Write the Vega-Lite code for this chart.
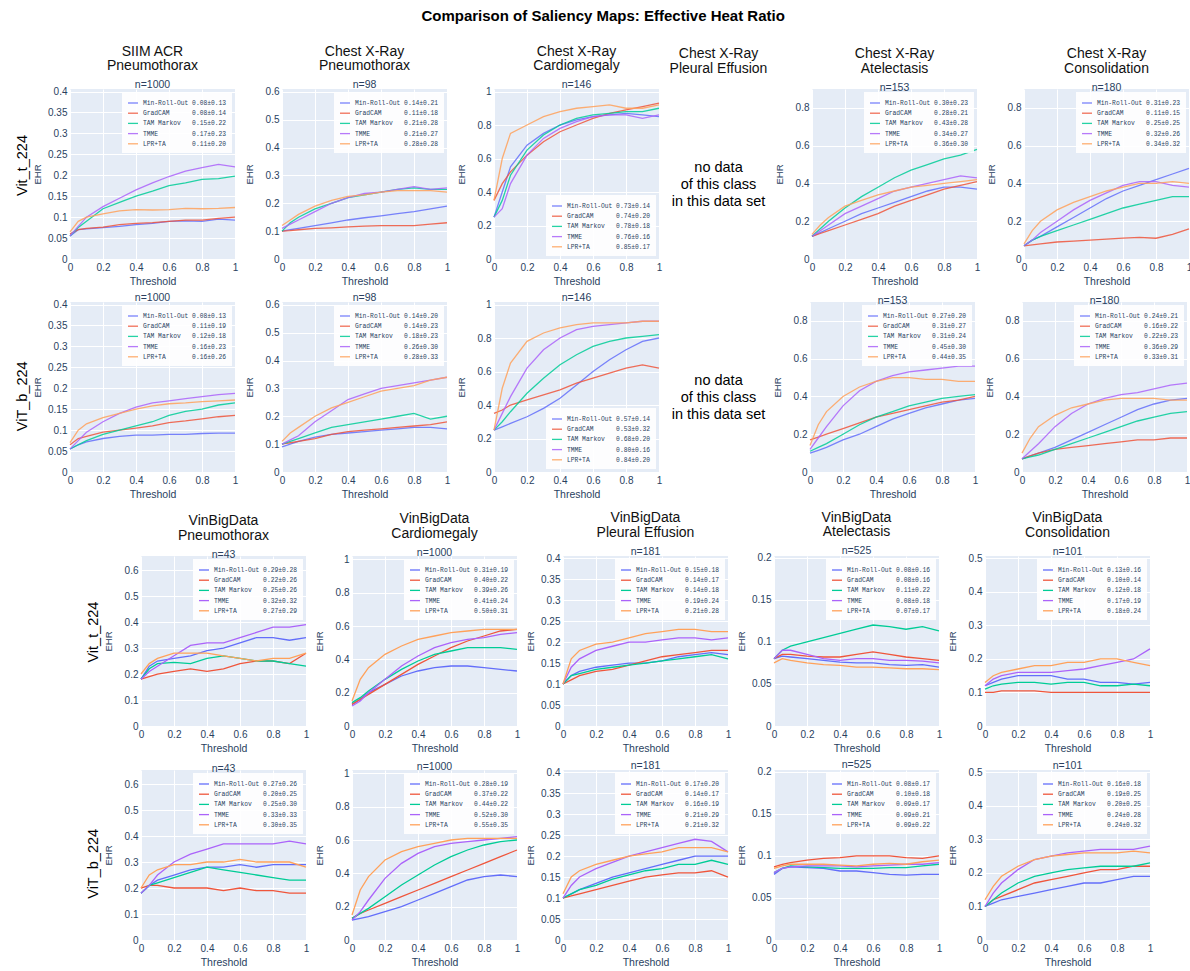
{
"$schema":"https://vega.github.io/schema/vega-lite/v6.json",
"padding":{"left":14,"top":8,"right":2,"bottom":2},
"title":{"text":"Comparison of Saliency Maps: Effective Heat Ratio","fontSize":15,"fontWeight":"bold","color":"#000000","offset":21,"anchor":"middle"},
"datasets":{"d":[
{"p":"T1","x":0,"Min-Roll-Out":0.055,"GradCAM":0.06,"TAM Markov":0.055,"TMME":0.055,"LPR+TA":0.065},
{"p":"T1","x":0.05,"Min-Roll-Out":0.07,"GradCAM":0.07,"TAM Markov":0.075,"TMME":0.078,"LPR+TA":0.09},
{"p":"T1","x":0.1,"Min-Roll-Out":0.072,"GradCAM":0.073,"TAM Markov":0.09,"TMME":0.1,"LPR+TA":0.1},
{"p":"T1","x":0.2,"Min-Roll-Out":0.075,"GradCAM":0.076,"TAM Markov":0.12,"TMME":0.125,"LPR+TA":0.108},
{"p":"T1","x":0.3,"Min-Roll-Out":0.078,"GradCAM":0.082,"TAM Markov":0.135,"TMME":0.145,"LPR+TA":0.115},
{"p":"T1","x":0.4,"Min-Roll-Out":0.082,"GradCAM":0.085,"TAM Markov":0.15,"TMME":0.165,"LPR+TA":0.118},
{"p":"T1","x":0.5,"Min-Roll-Out":0.085,"GradCAM":0.087,"TAM Markov":0.162,"TMME":0.182,"LPR+TA":0.117},
{"p":"T1","x":0.6,"Min-Roll-Out":0.09,"GradCAM":0.09,"TAM Markov":0.175,"TMME":0.197,"LPR+TA":0.118},
{"p":"T1","x":0.7,"Min-Roll-Out":0.091,"GradCAM":0.093,"TAM Markov":0.182,"TMME":0.21,"LPR+TA":0.121},
{"p":"T1","x":0.8,"Min-Roll-Out":0.09,"GradCAM":0.093,"TAM Markov":0.19,"TMME":0.218,"LPR+TA":0.12},
{"p":"T1","x":0.9,"Min-Roll-Out":0.095,"GradCAM":0.097,"TAM Markov":0.192,"TMME":0.226,"LPR+TA":0.121},
{"p":"T1","x":1,"Min-Roll-Out":0.093,"GradCAM":0.1,"TAM Markov":0.198,"TMME":0.22,"LPR+TA":0.123},
{"p":"T2","x":0,"Min-Roll-Out":0.1,"GradCAM":0.1,"TAM Markov":0.1,"TMME":0.11,"LPR+TA":0.12},
{"p":"T2","x":0.05,"Min-Roll-Out":0.105,"GradCAM":0.102,"TAM Markov":0.13,"TMME":0.125,"LPR+TA":0.14},
{"p":"T2","x":0.1,"Min-Roll-Out":0.11,"GradCAM":0.105,"TAM Markov":0.15,"TMME":0.14,"LPR+TA":0.16},
{"p":"T2","x":0.2,"Min-Roll-Out":0.12,"GradCAM":0.11,"TAM Markov":0.18,"TMME":0.17,"LPR+TA":0.19},
{"p":"T2","x":0.3,"Min-Roll-Out":0.13,"GradCAM":0.112,"TAM Markov":0.2,"TMME":0.2,"LPR+TA":0.21},
{"p":"T2","x":0.4,"Min-Roll-Out":0.14,"GradCAM":0.115,"TAM Markov":0.22,"TMME":0.22,"LPR+TA":0.225},
{"p":"T2","x":0.5,"Min-Roll-Out":0.148,"GradCAM":0.118,"TAM Markov":0.23,"TMME":0.235,"LPR+TA":0.23},
{"p":"T2","x":0.6,"Min-Roll-Out":0.155,"GradCAM":0.12,"TAM Markov":0.24,"TMME":0.24,"LPR+TA":0.24},
{"p":"T2","x":0.7,"Min-Roll-Out":0.163,"GradCAM":0.12,"TAM Markov":0.25,"TMME":0.25,"LPR+TA":0.245},
{"p":"T2","x":0.8,"Min-Roll-Out":0.17,"GradCAM":0.12,"TAM Markov":0.255,"TMME":0.26,"LPR+TA":0.245},
{"p":"T2","x":0.9,"Min-Roll-Out":0.18,"GradCAM":0.125,"TAM Markov":0.25,"TMME":0.25,"LPR+TA":0.245},
{"p":"T2","x":1,"Min-Roll-Out":0.19,"GradCAM":0.13,"TAM Markov":0.25,"TMME":0.255,"LPR+TA":0.24},
{"p":"T3","x":0,"Min-Roll-Out":0.25,"GradCAM":0.35,"TAM Markov":0.25,"TMME":0.25,"LPR+TA":0.35},
{"p":"T3","x":0.05,"Min-Roll-Out":0.4,"GradCAM":0.45,"TAM Markov":0.35,"TMME":0.3,"LPR+TA":0.6},
{"p":"T3","x":0.1,"Min-Roll-Out":0.55,"GradCAM":0.52,"TAM Markov":0.5,"TMME":0.45,"LPR+TA":0.75},
{"p":"T3","x":0.2,"Min-Roll-Out":0.68,"GradCAM":0.62,"TAM Markov":0.65,"TMME":0.62,"LPR+TA":0.8},
{"p":"T3","x":0.3,"Min-Roll-Out":0.75,"GradCAM":0.7,"TAM Markov":0.74,"TMME":0.72,"LPR+TA":0.85},
{"p":"T3","x":0.4,"Min-Roll-Out":0.8,"GradCAM":0.76,"TAM Markov":0.8,"TMME":0.78,"LPR+TA":0.88},
{"p":"T3","x":0.5,"Min-Roll-Out":0.83,"GradCAM":0.8,"TAM Markov":0.84,"TMME":0.82,"LPR+TA":0.9},
{"p":"T3","x":0.6,"Min-Roll-Out":0.85,"GradCAM":0.84,"TAM Markov":0.86,"TMME":0.85,"LPR+TA":0.91},
{"p":"T3","x":0.7,"Min-Roll-Out":0.86,"GradCAM":0.87,"TAM Markov":0.87,"TMME":0.86,"LPR+TA":0.92},
{"p":"T3","x":0.8,"Min-Roll-Out":0.87,"GradCAM":0.89,"TAM Markov":0.88,"TMME":0.86,"LPR+TA":0.9},
{"p":"T3","x":0.9,"Min-Roll-Out":0.86,"GradCAM":0.91,"TAM Markov":0.88,"TMME":0.84,"LPR+TA":0.9},
{"p":"T3","x":1,"Min-Roll-Out":0.85,"GradCAM":0.93,"TAM Markov":0.9,"TMME":0.86,"LPR+TA":0.92},
{"p":"T5","x":0,"Min-Roll-Out":0.12,"GradCAM":0.12,"TAM Markov":0.12,"TMME":0.12,"LPR+TA":0.13},
{"p":"T5","x":0.05,"Min-Roll-Out":0.14,"GradCAM":0.135,"TAM Markov":0.16,"TMME":0.15,"LPR+TA":0.18},
{"p":"T5","x":0.1,"Min-Roll-Out":0.16,"GradCAM":0.15,"TAM Markov":0.2,"TMME":0.18,"LPR+TA":0.22},
{"p":"T5","x":0.2,"Min-Roll-Out":0.2,"GradCAM":0.18,"TAM Markov":0.27,"TMME":0.24,"LPR+TA":0.28},
{"p":"T5","x":0.3,"Min-Roll-Out":0.24,"GradCAM":0.21,"TAM Markov":0.33,"TMME":0.28,"LPR+TA":0.31},
{"p":"T5","x":0.4,"Min-Roll-Out":0.27,"GradCAM":0.24,"TAM Markov":0.38,"TMME":0.32,"LPR+TA":0.34},
{"p":"T5","x":0.5,"Min-Roll-Out":0.3,"GradCAM":0.28,"TAM Markov":0.43,"TMME":0.36,"LPR+TA":0.36},
{"p":"T5","x":0.6,"Min-Roll-Out":0.33,"GradCAM":0.31,"TAM Markov":0.47,"TMME":0.38,"LPR+TA":0.38},
{"p":"T5","x":0.7,"Min-Roll-Out":0.36,"GradCAM":0.34,"TAM Markov":0.5,"TMME":0.4,"LPR+TA":0.39},
{"p":"T5","x":0.8,"Min-Roll-Out":0.38,"GradCAM":0.37,"TAM Markov":0.53,"TMME":0.42,"LPR+TA":0.4},
{"p":"T5","x":0.9,"Min-Roll-Out":0.38,"GradCAM":0.39,"TAM Markov":0.55,"TMME":0.44,"LPR+TA":0.41},
{"p":"T5","x":1,"Min-Roll-Out":0.37,"GradCAM":0.41,"TAM Markov":0.58,"TMME":0.43,"LPR+TA":0.42},
{"p":"T6","x":0,"Min-Roll-Out":0.07,"GradCAM":0.07,"TAM Markov":0.07,"TMME":0.07,"LPR+TA":0.08},
{"p":"T6","x":0.05,"Min-Roll-Out":0.1,"GradCAM":0.075,"TAM Markov":0.1,"TMME":0.1,"LPR+TA":0.15},
{"p":"T6","x":0.1,"Min-Roll-Out":0.12,"GradCAM":0.08,"TAM Markov":0.12,"TMME":0.14,"LPR+TA":0.2},
{"p":"T6","x":0.2,"Min-Roll-Out":0.17,"GradCAM":0.09,"TAM Markov":0.15,"TMME":0.2,"LPR+TA":0.26},
{"p":"T6","x":0.3,"Min-Roll-Out":0.22,"GradCAM":0.095,"TAM Markov":0.18,"TMME":0.26,"LPR+TA":0.3},
{"p":"T6","x":0.4,"Min-Roll-Out":0.27,"GradCAM":0.1,"TAM Markov":0.21,"TMME":0.31,"LPR+TA":0.33},
{"p":"T6","x":0.5,"Min-Roll-Out":0.32,"GradCAM":0.105,"TAM Markov":0.24,"TMME":0.35,"LPR+TA":0.36},
{"p":"T6","x":0.6,"Min-Roll-Out":0.36,"GradCAM":0.11,"TAM Markov":0.27,"TMME":0.39,"LPR+TA":0.38},
{"p":"T6","x":0.7,"Min-Roll-Out":0.39,"GradCAM":0.115,"TAM Markov":0.29,"TMME":0.41,"LPR+TA":0.4},
{"p":"T6","x":0.8,"Min-Roll-Out":0.42,"GradCAM":0.11,"TAM Markov":0.31,"TMME":0.41,"LPR+TA":0.4},
{"p":"T6","x":0.9,"Min-Roll-Out":0.45,"GradCAM":0.13,"TAM Markov":0.33,"TMME":0.39,"LPR+TA":0.41},
{"p":"T6","x":1,"Min-Roll-Out":0.48,"GradCAM":0.16,"TAM Markov":0.33,"TMME":0.38,"LPR+TA":0.4},
{"p":"U1","x":0,"Min-Roll-Out":0.055,"GradCAM":0.065,"TAM Markov":0.055,"TMME":0.055,"LPR+TA":0.07},
{"p":"U1","x":0.05,"Min-Roll-Out":0.065,"GradCAM":0.08,"TAM Markov":0.065,"TMME":0.075,"LPR+TA":0.1},
{"p":"U1","x":0.1,"Min-Roll-Out":0.072,"GradCAM":0.085,"TAM Markov":0.075,"TMME":0.095,"LPR+TA":0.115},
{"p":"U1","x":0.2,"Min-Roll-Out":0.08,"GradCAM":0.095,"TAM Markov":0.09,"TMME":0.12,"LPR+TA":0.13},
{"p":"U1","x":0.3,"Min-Roll-Out":0.085,"GradCAM":0.1,"TAM Markov":0.1,"TMME":0.14,"LPR+TA":0.14},
{"p":"U1","x":0.4,"Min-Roll-Out":0.088,"GradCAM":0.105,"TAM Markov":0.11,"TMME":0.155,"LPR+TA":0.15},
{"p":"U1","x":0.5,"Min-Roll-Out":0.088,"GradCAM":0.11,"TAM Markov":0.12,"TMME":0.165,"LPR+TA":0.158},
{"p":"U1","x":0.6,"Min-Roll-Out":0.09,"GradCAM":0.118,"TAM Markov":0.135,"TMME":0.17,"LPR+TA":0.163},
{"p":"U1","x":0.7,"Min-Roll-Out":0.09,"GradCAM":0.122,"TAM Markov":0.145,"TMME":0.175,"LPR+TA":0.165},
{"p":"U1","x":0.8,"Min-Roll-Out":0.092,"GradCAM":0.127,"TAM Markov":0.15,"TMME":0.18,"LPR+TA":0.168},
{"p":"U1","x":0.9,"Min-Roll-Out":0.093,"GradCAM":0.132,"TAM Markov":0.16,"TMME":0.185,"LPR+TA":0.17},
{"p":"U1","x":1,"Min-Roll-Out":0.093,"GradCAM":0.135,"TAM Markov":0.165,"TMME":0.188,"LPR+TA":0.172},
{"p":"U2","x":0,"Min-Roll-Out":0.09,"GradCAM":0.1,"TAM Markov":0.1,"TMME":0.1,"LPR+TA":0.11},
{"p":"U2","x":0.05,"Min-Roll-Out":0.1,"GradCAM":0.105,"TAM Markov":0.11,"TMME":0.115,"LPR+TA":0.14},
{"p":"U2","x":0.1,"Min-Roll-Out":0.11,"GradCAM":0.11,"TAM Markov":0.12,"TMME":0.13,"LPR+TA":0.16},
{"p":"U2","x":0.2,"Min-Roll-Out":0.125,"GradCAM":0.12,"TAM Markov":0.14,"TMME":0.18,"LPR+TA":0.2},
{"p":"U2","x":0.3,"Min-Roll-Out":0.135,"GradCAM":0.135,"TAM Markov":0.16,"TMME":0.22,"LPR+TA":0.23},
{"p":"U2","x":0.4,"Min-Roll-Out":0.14,"GradCAM":0.145,"TAM Markov":0.17,"TMME":0.26,"LPR+TA":0.25},
{"p":"U2","x":0.5,"Min-Roll-Out":0.145,"GradCAM":0.15,"TAM Markov":0.18,"TMME":0.28,"LPR+TA":0.27},
{"p":"U2","x":0.6,"Min-Roll-Out":0.15,"GradCAM":0.155,"TAM Markov":0.19,"TMME":0.3,"LPR+TA":0.29},
{"p":"U2","x":0.7,"Min-Roll-Out":0.155,"GradCAM":0.16,"TAM Markov":0.2,"TMME":0.31,"LPR+TA":0.3},
{"p":"U2","x":0.8,"Min-Roll-Out":0.16,"GradCAM":0.165,"TAM Markov":0.21,"TMME":0.32,"LPR+TA":0.31},
{"p":"U2","x":0.9,"Min-Roll-Out":0.16,"GradCAM":0.17,"TAM Markov":0.19,"TMME":0.33,"LPR+TA":0.33},
{"p":"U2","x":1,"Min-Roll-Out":0.155,"GradCAM":0.18,"TAM Markov":0.2,"TMME":0.34,"LPR+TA":0.34},
{"p":"U3","x":0,"Min-Roll-Out":0.25,"GradCAM":0.35,"TAM Markov":0.25,"TMME":0.25,"LPR+TA":0.25},
{"p":"U3","x":0.05,"Min-Roll-Out":0.27,"GradCAM":0.37,"TAM Markov":0.3,"TMME":0.35,"LPR+TA":0.5},
{"p":"U3","x":0.1,"Min-Roll-Out":0.29,"GradCAM":0.4,"TAM Markov":0.36,"TMME":0.45,"LPR+TA":0.65},
{"p":"U3","x":0.2,"Min-Roll-Out":0.33,"GradCAM":0.43,"TAM Markov":0.47,"TMME":0.62,"LPR+TA":0.78},
{"p":"U3","x":0.3,"Min-Roll-Out":0.38,"GradCAM":0.46,"TAM Markov":0.56,"TMME":0.73,"LPR+TA":0.83},
{"p":"U3","x":0.4,"Min-Roll-Out":0.44,"GradCAM":0.49,"TAM Markov":0.64,"TMME":0.8,"LPR+TA":0.86},
{"p":"U3","x":0.5,"Min-Roll-Out":0.52,"GradCAM":0.53,"TAM Markov":0.7,"TMME":0.85,"LPR+TA":0.88},
{"p":"U3","x":0.6,"Min-Roll-Out":0.6,"GradCAM":0.56,"TAM Markov":0.75,"TMME":0.87,"LPR+TA":0.89},
{"p":"U3","x":0.7,"Min-Roll-Out":0.67,"GradCAM":0.59,"TAM Markov":0.78,"TMME":0.88,"LPR+TA":0.89},
{"p":"U3","x":0.8,"Min-Roll-Out":0.73,"GradCAM":0.62,"TAM Markov":0.8,"TMME":0.89,"LPR+TA":0.89},
{"p":"U3","x":0.9,"Min-Roll-Out":0.78,"GradCAM":0.64,"TAM Markov":0.81,"TMME":0.9,"LPR+TA":0.9},
{"p":"U3","x":1,"Min-Roll-Out":0.8,"GradCAM":0.62,"TAM Markov":0.82,"TMME":0.9,"LPR+TA":0.9},
{"p":"U5","x":0,"Min-Roll-Out":0.1,"GradCAM":0.17,"TAM Markov":0.11,"TMME":0.12,"LPR+TA":0.14},
{"p":"U5","x":0.05,"Min-Roll-Out":0.115,"GradCAM":0.185,"TAM Markov":0.13,"TMME":0.18,"LPR+TA":0.25},
{"p":"U5","x":0.1,"Min-Roll-Out":0.13,"GradCAM":0.2,"TAM Markov":0.15,"TMME":0.24,"LPR+TA":0.32},
{"p":"U5","x":0.2,"Min-Roll-Out":0.17,"GradCAM":0.23,"TAM Markov":0.2,"TMME":0.35,"LPR+TA":0.4},
{"p":"U5","x":0.3,"Min-Roll-Out":0.2,"GradCAM":0.26,"TAM Markov":0.25,"TMME":0.43,"LPR+TA":0.45},
{"p":"U5","x":0.4,"Min-Roll-Out":0.24,"GradCAM":0.29,"TAM Markov":0.29,"TMME":0.48,"LPR+TA":0.48},
{"p":"U5","x":0.5,"Min-Roll-Out":0.28,"GradCAM":0.31,"TAM Markov":0.32,"TMME":0.51,"LPR+TA":0.5},
{"p":"U5","x":0.6,"Min-Roll-Out":0.31,"GradCAM":0.33,"TAM Markov":0.35,"TMME":0.53,"LPR+TA":0.5},
{"p":"U5","x":0.7,"Min-Roll-Out":0.34,"GradCAM":0.35,"TAM Markov":0.37,"TMME":0.54,"LPR+TA":0.49},
{"p":"U5","x":0.8,"Min-Roll-Out":0.36,"GradCAM":0.37,"TAM Markov":0.39,"TMME":0.55,"LPR+TA":0.49},
{"p":"U5","x":0.9,"Min-Roll-Out":0.38,"GradCAM":0.38,"TAM Markov":0.4,"TMME":0.56,"LPR+TA":0.48},
{"p":"U5","x":1,"Min-Roll-Out":0.39,"GradCAM":0.4,"TAM Markov":0.41,"TMME":0.56,"LPR+TA":0.48},
{"p":"U6","x":0,"Min-Roll-Out":0.07,"GradCAM":0.07,"TAM Markov":0.07,"TMME":0.07,"LPR+TA":0.1},
{"p":"U6","x":0.05,"Min-Roll-Out":0.085,"GradCAM":0.085,"TAM Markov":0.08,"TMME":0.11,"LPR+TA":0.18},
{"p":"U6","x":0.1,"Min-Roll-Out":0.1,"GradCAM":0.1,"TAM Markov":0.09,"TMME":0.15,"LPR+TA":0.24},
{"p":"U6","x":0.2,"Min-Roll-Out":0.13,"GradCAM":0.12,"TAM Markov":0.12,"TMME":0.24,"LPR+TA":0.3},
{"p":"U6","x":0.3,"Min-Roll-Out":0.17,"GradCAM":0.13,"TAM Markov":0.15,"TMME":0.31,"LPR+TA":0.34},
{"p":"U6","x":0.4,"Min-Roll-Out":0.21,"GradCAM":0.14,"TAM Markov":0.18,"TMME":0.36,"LPR+TA":0.36},
{"p":"U6","x":0.5,"Min-Roll-Out":0.25,"GradCAM":0.15,"TAM Markov":0.21,"TMME":0.39,"LPR+TA":0.38},
{"p":"U6","x":0.6,"Min-Roll-Out":0.29,"GradCAM":0.16,"TAM Markov":0.24,"TMME":0.41,"LPR+TA":0.39},
{"p":"U6","x":0.7,"Min-Roll-Out":0.33,"GradCAM":0.17,"TAM Markov":0.27,"TMME":0.42,"LPR+TA":0.39},
{"p":"U6","x":0.8,"Min-Roll-Out":0.36,"GradCAM":0.17,"TAM Markov":0.29,"TMME":0.44,"LPR+TA":0.39},
{"p":"U6","x":0.9,"Min-Roll-Out":0.38,"GradCAM":0.18,"TAM Markov":0.31,"TMME":0.46,"LPR+TA":0.38},
{"p":"U6","x":1,"Min-Roll-Out":0.39,"GradCAM":0.18,"TAM Markov":0.32,"TMME":0.47,"LPR+TA":0.38},
{"p":"B1","x":0,"Min-Roll-Out":0.18,"GradCAM":0.18,"TAM Markov":0.18,"TMME":0.18,"LPR+TA":0.2},
{"p":"B1","x":0.05,"Min-Roll-Out":0.23,"GradCAM":0.19,"TAM Markov":0.22,"TMME":0.21,"LPR+TA":0.24},
{"p":"B1","x":0.1,"Min-Roll-Out":0.25,"GradCAM":0.2,"TAM Markov":0.24,"TMME":0.23,"LPR+TA":0.26},
{"p":"B1","x":0.2,"Min-Roll-Out":0.26,"GradCAM":0.21,"TAM Markov":0.245,"TMME":0.27,"LPR+TA":0.28},
{"p":"B1","x":0.3,"Min-Roll-Out":0.27,"GradCAM":0.22,"TAM Markov":0.24,"TMME":0.31,"LPR+TA":0.28},
{"p":"B1","x":0.4,"Min-Roll-Out":0.29,"GradCAM":0.21,"TAM Markov":0.26,"TMME":0.32,"LPR+TA":0.28},
{"p":"B1","x":0.5,"Min-Roll-Out":0.3,"GradCAM":0.22,"TAM Markov":0.27,"TMME":0.32,"LPR+TA":0.27},
{"p":"B1","x":0.6,"Min-Roll-Out":0.32,"GradCAM":0.24,"TAM Markov":0.26,"TMME":0.34,"LPR+TA":0.26},
{"p":"B1","x":0.7,"Min-Roll-Out":0.34,"GradCAM":0.25,"TAM Markov":0.25,"TMME":0.36,"LPR+TA":0.25},
{"p":"B1","x":0.8,"Min-Roll-Out":0.34,"GradCAM":0.25,"TAM Markov":0.25,"TMME":0.38,"LPR+TA":0.26},
{"p":"B1","x":0.9,"Min-Roll-Out":0.33,"GradCAM":0.24,"TAM Markov":0.24,"TMME":0.38,"LPR+TA":0.26},
{"p":"B1","x":1,"Min-Roll-Out":0.34,"GradCAM":0.28,"TAM Markov":0.23,"TMME":0.39,"LPR+TA":0.28},
{"p":"B2","x":0,"Min-Roll-Out":0.13,"GradCAM":0.13,"TAM Markov":0.14,"TMME":0.12,"LPR+TA":0.15},
{"p":"B2","x":0.05,"Min-Roll-Out":0.16,"GradCAM":0.16,"TAM Markov":0.17,"TMME":0.15,"LPR+TA":0.28},
{"p":"B2","x":0.1,"Min-Roll-Out":0.2,"GradCAM":0.19,"TAM Markov":0.21,"TMME":0.2,"LPR+TA":0.35},
{"p":"B2","x":0.2,"Min-Roll-Out":0.25,"GradCAM":0.25,"TAM Markov":0.28,"TMME":0.28,"LPR+TA":0.43},
{"p":"B2","x":0.3,"Min-Roll-Out":0.3,"GradCAM":0.31,"TAM Markov":0.34,"TMME":0.36,"LPR+TA":0.48},
{"p":"B2","x":0.4,"Min-Roll-Out":0.33,"GradCAM":0.37,"TAM Markov":0.39,"TMME":0.42,"LPR+TA":0.52},
{"p":"B2","x":0.5,"Min-Roll-Out":0.35,"GradCAM":0.42,"TAM Markov":0.43,"TMME":0.47,"LPR+TA":0.54},
{"p":"B2","x":0.6,"Min-Roll-Out":0.36,"GradCAM":0.47,"TAM Markov":0.45,"TMME":0.5,"LPR+TA":0.56},
{"p":"B2","x":0.7,"Min-Roll-Out":0.36,"GradCAM":0.51,"TAM Markov":0.47,"TMME":0.52,"LPR+TA":0.57},
{"p":"B2","x":0.8,"Min-Roll-Out":0.35,"GradCAM":0.54,"TAM Markov":0.47,"TMME":0.53,"LPR+TA":0.58},
{"p":"B2","x":0.9,"Min-Roll-Out":0.34,"GradCAM":0.57,"TAM Markov":0.47,"TMME":0.55,"LPR+TA":0.58},
{"p":"B2","x":1,"Min-Roll-Out":0.33,"GradCAM":0.58,"TAM Markov":0.46,"TMME":0.56,"LPR+TA":0.58},
{"p":"B3","x":0,"Min-Roll-Out":0.1,"GradCAM":0.1,"TAM Markov":0.1,"TMME":0.1,"LPR+TA":0.1},
{"p":"B3","x":0.05,"Min-Roll-Out":0.12,"GradCAM":0.11,"TAM Markov":0.12,"TMME":0.14,"LPR+TA":0.16},
{"p":"B3","x":0.1,"Min-Roll-Out":0.13,"GradCAM":0.12,"TAM Markov":0.125,"TMME":0.16,"LPR+TA":0.18},
{"p":"B3","x":0.2,"Min-Roll-Out":0.14,"GradCAM":0.13,"TAM Markov":0.135,"TMME":0.18,"LPR+TA":0.195},
{"p":"B3","x":0.3,"Min-Roll-Out":0.145,"GradCAM":0.135,"TAM Markov":0.14,"TMME":0.19,"LPR+TA":0.2},
{"p":"B3","x":0.4,"Min-Roll-Out":0.15,"GradCAM":0.145,"TAM Markov":0.145,"TMME":0.2,"LPR+TA":0.21},
{"p":"B3","x":0.5,"Min-Roll-Out":0.15,"GradCAM":0.155,"TAM Markov":0.15,"TMME":0.2,"LPR+TA":0.22},
{"p":"B3","x":0.6,"Min-Roll-Out":0.155,"GradCAM":0.165,"TAM Markov":0.155,"TMME":0.205,"LPR+TA":0.225},
{"p":"B3","x":0.7,"Min-Roll-Out":0.165,"GradCAM":0.17,"TAM Markov":0.16,"TMME":0.21,"LPR+TA":0.23},
{"p":"B3","x":0.8,"Min-Roll-Out":0.17,"GradCAM":0.175,"TAM Markov":0.165,"TMME":0.21,"LPR+TA":0.23},
{"p":"B3","x":0.9,"Min-Roll-Out":0.175,"GradCAM":0.18,"TAM Markov":0.17,"TMME":0.205,"LPR+TA":0.225},
{"p":"B3","x":1,"Min-Roll-Out":0.17,"GradCAM":0.18,"TAM Markov":0.16,"TMME":0.21,"LPR+TA":0.225},
{"p":"B4","x":0,"Min-Roll-Out":0.08,"GradCAM":0.08,"TAM Markov":0.08,"TMME":0.08,"LPR+TA":0.075},
{"p":"B4","x":0.05,"Min-Roll-Out":0.083,"GradCAM":0.085,"TAM Markov":0.09,"TMME":0.09,"LPR+TA":0.08},
{"p":"B4","x":0.1,"Min-Roll-Out":0.082,"GradCAM":0.085,"TAM Markov":0.095,"TMME":0.09,"LPR+TA":0.078},
{"p":"B4","x":0.2,"Min-Roll-Out":0.08,"GradCAM":0.083,"TAM Markov":0.1,"TMME":0.085,"LPR+TA":0.075},
{"p":"B4","x":0.3,"Min-Roll-Out":0.078,"GradCAM":0.082,"TAM Markov":0.105,"TMME":0.08,"LPR+TA":0.073},
{"p":"B4","x":0.4,"Min-Roll-Out":0.076,"GradCAM":0.082,"TAM Markov":0.11,"TMME":0.078,"LPR+TA":0.072},
{"p":"B4","x":0.5,"Min-Roll-Out":0.075,"GradCAM":0.085,"TAM Markov":0.115,"TMME":0.08,"LPR+TA":0.07},
{"p":"B4","x":0.6,"Min-Roll-Out":0.075,"GradCAM":0.088,"TAM Markov":0.12,"TMME":0.08,"LPR+TA":0.07},
{"p":"B4","x":0.7,"Min-Roll-Out":0.073,"GradCAM":0.085,"TAM Markov":0.118,"TMME":0.078,"LPR+TA":0.069},
{"p":"B4","x":0.8,"Min-Roll-Out":0.072,"GradCAM":0.082,"TAM Markov":0.115,"TMME":0.078,"LPR+TA":0.068},
{"p":"B4","x":0.9,"Min-Roll-Out":0.073,"GradCAM":0.08,"TAM Markov":0.118,"TMME":0.077,"LPR+TA":0.068},
{"p":"B4","x":1,"Min-Roll-Out":0.07,"GradCAM":0.078,"TAM Markov":0.113,"TMME":0.075,"LPR+TA":0.067},
{"p":"B5","x":0,"Min-Roll-Out":0.12,"GradCAM":0.1,"TAM Markov":0.11,"TMME":0.12,"LPR+TA":0.13},
{"p":"B5","x":0.05,"Min-Roll-Out":0.13,"GradCAM":0.1,"TAM Markov":0.12,"TMME":0.14,"LPR+TA":0.15},
{"p":"B5","x":0.1,"Min-Roll-Out":0.14,"GradCAM":0.105,"TAM Markov":0.125,"TMME":0.15,"LPR+TA":0.16},
{"p":"B5","x":0.2,"Min-Roll-Out":0.15,"GradCAM":0.105,"TAM Markov":0.13,"TMME":0.16,"LPR+TA":0.17},
{"p":"B5","x":0.3,"Min-Roll-Out":0.15,"GradCAM":0.105,"TAM Markov":0.13,"TMME":0.16,"LPR+TA":0.18},
{"p":"B5","x":0.4,"Min-Roll-Out":0.15,"GradCAM":0.1,"TAM Markov":0.125,"TMME":0.16,"LPR+TA":0.18},
{"p":"B5","x":0.5,"Min-Roll-Out":0.14,"GradCAM":0.1,"TAM Markov":0.13,"TMME":0.165,"LPR+TA":0.19},
{"p":"B5","x":0.6,"Min-Roll-Out":0.14,"GradCAM":0.1,"TAM Markov":0.13,"TMME":0.17,"LPR+TA":0.19},
{"p":"B5","x":0.7,"Min-Roll-Out":0.13,"GradCAM":0.1,"TAM Markov":0.12,"TMME":0.18,"LPR+TA":0.2},
{"p":"B5","x":0.8,"Min-Roll-Out":0.13,"GradCAM":0.1,"TAM Markov":0.12,"TMME":0.19,"LPR+TA":0.2},
{"p":"B5","x":0.9,"Min-Roll-Out":0.125,"GradCAM":0.1,"TAM Markov":0.125,"TMME":0.2,"LPR+TA":0.19},
{"p":"B5","x":1,"Min-Roll-Out":0.13,"GradCAM":0.1,"TAM Markov":0.12,"TMME":0.23,"LPR+TA":0.18},
{"p":"C1","x":0,"Min-Roll-Out":0.18,"GradCAM":0.2,"TAM Markov":0.18,"TMME":0.18,"LPR+TA":0.2},
{"p":"C1","x":0.05,"Min-Roll-Out":0.21,"GradCAM":0.21,"TAM Markov":0.21,"TMME":0.21,"LPR+TA":0.25},
{"p":"C1","x":0.1,"Min-Roll-Out":0.23,"GradCAM":0.21,"TAM Markov":0.22,"TMME":0.25,"LPR+TA":0.27},
{"p":"C1","x":0.2,"Min-Roll-Out":0.25,"GradCAM":0.2,"TAM Markov":0.24,"TMME":0.3,"LPR+TA":0.29},
{"p":"C1","x":0.3,"Min-Roll-Out":0.27,"GradCAM":0.2,"TAM Markov":0.26,"TMME":0.33,"LPR+TA":0.29},
{"p":"C1","x":0.4,"Min-Roll-Out":0.28,"GradCAM":0.2,"TAM Markov":0.28,"TMME":0.35,"LPR+TA":0.3},
{"p":"C1","x":0.5,"Min-Roll-Out":0.28,"GradCAM":0.19,"TAM Markov":0.27,"TMME":0.37,"LPR+TA":0.3},
{"p":"C1","x":0.6,"Min-Roll-Out":0.29,"GradCAM":0.2,"TAM Markov":0.26,"TMME":0.37,"LPR+TA":0.31},
{"p":"C1","x":0.7,"Min-Roll-Out":0.28,"GradCAM":0.19,"TAM Markov":0.25,"TMME":0.37,"LPR+TA":0.3},
{"p":"C1","x":0.8,"Min-Roll-Out":0.29,"GradCAM":0.19,"TAM Markov":0.24,"TMME":0.37,"LPR+TA":0.3},
{"p":"C1","x":0.9,"Min-Roll-Out":0.29,"GradCAM":0.18,"TAM Markov":0.23,"TMME":0.38,"LPR+TA":0.3},
{"p":"C1","x":1,"Min-Roll-Out":0.29,"GradCAM":0.18,"TAM Markov":0.23,"TMME":0.37,"LPR+TA":0.28},
{"p":"C2","x":0,"Min-Roll-Out":0.12,"GradCAM":0.13,"TAM Markov":0.13,"TMME":0.12,"LPR+TA":0.15},
{"p":"C2","x":0.05,"Min-Roll-Out":0.13,"GradCAM":0.16,"TAM Markov":0.16,"TMME":0.17,"LPR+TA":0.3},
{"p":"C2","x":0.1,"Min-Roll-Out":0.14,"GradCAM":0.18,"TAM Markov":0.19,"TMME":0.24,"LPR+TA":0.38},
{"p":"C2","x":0.2,"Min-Roll-Out":0.17,"GradCAM":0.22,"TAM Markov":0.26,"TMME":0.37,"LPR+TA":0.48},
{"p":"C2","x":0.3,"Min-Roll-Out":0.2,"GradCAM":0.26,"TAM Markov":0.33,"TMME":0.46,"LPR+TA":0.53},
{"p":"C2","x":0.4,"Min-Roll-Out":0.24,"GradCAM":0.3,"TAM Markov":0.39,"TMME":0.52,"LPR+TA":0.56},
{"p":"C2","x":0.5,"Min-Roll-Out":0.28,"GradCAM":0.34,"TAM Markov":0.45,"TMME":0.56,"LPR+TA":0.58},
{"p":"C2","x":0.6,"Min-Roll-Out":0.32,"GradCAM":0.38,"TAM Markov":0.5,"TMME":0.58,"LPR+TA":0.6},
{"p":"C2","x":0.7,"Min-Roll-Out":0.36,"GradCAM":0.42,"TAM Markov":0.54,"TMME":0.59,"LPR+TA":0.61},
{"p":"C2","x":0.8,"Min-Roll-Out":0.38,"GradCAM":0.46,"TAM Markov":0.57,"TMME":0.6,"LPR+TA":0.61},
{"p":"C2","x":0.9,"Min-Roll-Out":0.39,"GradCAM":0.5,"TAM Markov":0.59,"TMME":0.61,"LPR+TA":0.61},
{"p":"C2","x":1,"Min-Roll-Out":0.38,"GradCAM":0.54,"TAM Markov":0.6,"TMME":0.62,"LPR+TA":0.61},
{"p":"C3","x":0,"Min-Roll-Out":0.1,"GradCAM":0.1,"TAM Markov":0.1,"TMME":0.1,"LPR+TA":0.11},
{"p":"C3","x":0.05,"Min-Roll-Out":0.11,"GradCAM":0.105,"TAM Markov":0.11,"TMME":0.13,"LPR+TA":0.15},
{"p":"C3","x":0.1,"Min-Roll-Out":0.12,"GradCAM":0.11,"TAM Markov":0.12,"TMME":0.15,"LPR+TA":0.165},
{"p":"C3","x":0.2,"Min-Roll-Out":0.135,"GradCAM":0.12,"TAM Markov":0.13,"TMME":0.17,"LPR+TA":0.18},
{"p":"C3","x":0.3,"Min-Roll-Out":0.15,"GradCAM":0.13,"TAM Markov":0.145,"TMME":0.185,"LPR+TA":0.19},
{"p":"C3","x":0.4,"Min-Roll-Out":0.16,"GradCAM":0.14,"TAM Markov":0.155,"TMME":0.2,"LPR+TA":0.2},
{"p":"C3","x":0.5,"Min-Roll-Out":0.17,"GradCAM":0.15,"TAM Markov":0.165,"TMME":0.21,"LPR+TA":0.205},
{"p":"C3","x":0.6,"Min-Roll-Out":0.18,"GradCAM":0.155,"TAM Markov":0.17,"TMME":0.22,"LPR+TA":0.21},
{"p":"C3","x":0.7,"Min-Roll-Out":0.19,"GradCAM":0.16,"TAM Markov":0.18,"TMME":0.23,"LPR+TA":0.22},
{"p":"C3","x":0.8,"Min-Roll-Out":0.2,"GradCAM":0.16,"TAM Markov":0.18,"TMME":0.24,"LPR+TA":0.22},
{"p":"C3","x":0.9,"Min-Roll-Out":0.2,"GradCAM":0.165,"TAM Markov":0.19,"TMME":0.235,"LPR+TA":0.22},
{"p":"C3","x":1,"Min-Roll-Out":0.2,"GradCAM":0.15,"TAM Markov":0.18,"TMME":0.21,"LPR+TA":0.21},
{"p":"C4","x":0,"Min-Roll-Out":0.078,"GradCAM":0.087,"TAM Markov":0.08,"TMME":0.08,"LPR+TA":0.085},
{"p":"C4","x":0.05,"Min-Roll-Out":0.085,"GradCAM":0.09,"TAM Markov":0.085,"TMME":0.085,"LPR+TA":0.088},
{"p":"C4","x":0.1,"Min-Roll-Out":0.087,"GradCAM":0.092,"TAM Markov":0.088,"TMME":0.087,"LPR+TA":0.09},
{"p":"C4","x":0.2,"Min-Roll-Out":0.086,"GradCAM":0.095,"TAM Markov":0.087,"TMME":0.088,"LPR+TA":0.09},
{"p":"C4","x":0.3,"Min-Roll-Out":0.085,"GradCAM":0.097,"TAM Markov":0.086,"TMME":0.088,"LPR+TA":0.09},
{"p":"C4","x":0.4,"Min-Roll-Out":0.082,"GradCAM":0.098,"TAM Markov":0.085,"TMME":0.088,"LPR+TA":0.089},
{"p":"C4","x":0.5,"Min-Roll-Out":0.082,"GradCAM":0.1,"TAM Markov":0.085,"TMME":0.087,"LPR+TA":0.088},
{"p":"C4","x":0.6,"Min-Roll-Out":0.08,"GradCAM":0.1,"TAM Markov":0.085,"TMME":0.088,"LPR+TA":0.09},
{"p":"C4","x":0.7,"Min-Roll-Out":0.078,"GradCAM":0.1,"TAM Markov":0.086,"TMME":0.089,"LPR+TA":0.091},
{"p":"C4","x":0.8,"Min-Roll-Out":0.077,"GradCAM":0.098,"TAM Markov":0.086,"TMME":0.09,"LPR+TA":0.09},
{"p":"C4","x":0.9,"Min-Roll-Out":0.078,"GradCAM":0.097,"TAM Markov":0.088,"TMME":0.09,"LPR+TA":0.093},
{"p":"C4","x":1,"Min-Roll-Out":0.078,"GradCAM":0.1,"TAM Markov":0.09,"TMME":0.092,"LPR+TA":0.095},
{"p":"C5","x":0,"Min-Roll-Out":0.1,"GradCAM":0.1,"TAM Markov":0.1,"TMME":0.1,"LPR+TA":0.12},
{"p":"C5","x":0.05,"Min-Roll-Out":0.11,"GradCAM":0.12,"TAM Markov":0.12,"TMME":0.14,"LPR+TA":0.16},
{"p":"C5","x":0.1,"Min-Roll-Out":0.12,"GradCAM":0.13,"TAM Markov":0.14,"TMME":0.17,"LPR+TA":0.19},
{"p":"C5","x":0.2,"Min-Roll-Out":0.13,"GradCAM":0.15,"TAM Markov":0.17,"TMME":0.21,"LPR+TA":0.22},
{"p":"C5","x":0.3,"Min-Roll-Out":0.14,"GradCAM":0.17,"TAM Markov":0.19,"TMME":0.24,"LPR+TA":0.24},
{"p":"C5","x":0.4,"Min-Roll-Out":0.15,"GradCAM":0.18,"TAM Markov":0.2,"TMME":0.25,"LPR+TA":0.25},
{"p":"C5","x":0.5,"Min-Roll-Out":0.16,"GradCAM":0.19,"TAM Markov":0.21,"TMME":0.26,"LPR+TA":0.255},
{"p":"C5","x":0.6,"Min-Roll-Out":0.17,"GradCAM":0.2,"TAM Markov":0.215,"TMME":0.265,"LPR+TA":0.26},
{"p":"C5","x":0.7,"Min-Roll-Out":0.17,"GradCAM":0.21,"TAM Markov":0.22,"TMME":0.27,"LPR+TA":0.26},
{"p":"C5","x":0.8,"Min-Roll-Out":0.18,"GradCAM":0.21,"TAM Markov":0.22,"TMME":0.27,"LPR+TA":0.26},
{"p":"C5","x":0.9,"Min-Roll-Out":0.19,"GradCAM":0.22,"TAM Markov":0.22,"TMME":0.27,"LPR+TA":0.265},
{"p":"C5","x":1,"Min-Roll-Out":0.19,"GradCAM":0.22,"TAM Markov":0.23,"TMME":0.28,"LPR+TA":0.26}
]},
"data":{"name":"d"},
"spacing":10,
"resolve":{"scale":{"color":"independent"}},
"vconcat":[
{"vconcat":[
{"title":{"text":"Vit_t_224","orient":"left","fontSize":14.5,"offset":2,"anchor":"middle","color":"#000000"},
"spacing":6,"resolve":{"scale":{"color":"independent"}},
"hconcat":[
{"width":165,"height":170,"title":{"text":["SIIM ACR","Pneumothorax"],"subtitle":"n=1000"},
"transform":[{"filter":"datum.p=='T1'"},{"fold":["Min-Roll-Out","GradCAM","TAM Markov","TMME","LPR+TA"],"as":["m","y"]}],
"mark":{"type":"line","opacity":0.85},
"encoding":{"x":{"field":"x","type":"quantitative","scale":{"domain":[0,1],"nice":false},"axis":{"values":[0,0.2,0.4,0.6,0.8,1],"format":"~g","title":"Threshold"}},
"y":{"field":"y","type":"quantitative","scale":{"domain":[0,0.406],"nice":false},"axis":{"values":[0,0.05,0.1,0.15,0.2,0.25,0.3,0.35,0.4],"format":"~g","title":"EHR"}},
"color":{"field":"m","type":"nominal","scale":{"domain":["Min-Roll-Out","GradCAM","TAM Markov","TMME","LPR+TA"],"range":["#636EFA","#EF553B","#00CC96","#AB63FA","#FFA15A"]},"legend":{"title":null,"labelExpr":"pad(datum.label,13,'\u00a0','right')+['0.08±0.13','0.08±0.14','0.15±0.22','0.17±0.23','0.11±0.20'][indexof(['Min-Roll-Out','GradCAM','TAM Markov','TMME','LPR+TA'],datum.label)]"}}}},
{"width":165,"height":170,"title":{"text":["Chest X-Ray","Pneumothorax"],"subtitle":"n=98"},
"transform":[{"filter":"datum.p=='T2'"},{"fold":["Min-Roll-Out","GradCAM","TAM Markov","TMME","LPR+TA"],"as":["m","y"]}],
"mark":{"type":"line","opacity":0.85},
"encoding":{"x":{"field":"x","type":"quantitative","scale":{"domain":[0,1],"nice":false},"axis":{"values":[0,0.2,0.4,0.6,0.8,1],"format":"~g","title":"Threshold"}},
"y":{"field":"y","type":"quantitative","scale":{"domain":[0,0.61],"nice":false},"axis":{"values":[0,0.1,0.2,0.3,0.4,0.5,0.6],"format":"~g","title":"EHR"}},
"color":{"field":"m","type":"nominal","scale":{"domain":["Min-Roll-Out","GradCAM","TAM Markov","TMME","LPR+TA"],"range":["#636EFA","#EF553B","#00CC96","#AB63FA","#FFA15A"]},"legend":{"title":null,"labelExpr":"pad(datum.label,13,'\u00a0','right')+['0.14±0.21','0.11±0.18','0.21±0.28','0.21±0.27','0.28±0.28'][indexof(['Min-Roll-Out','GradCAM','TAM Markov','TMME','LPR+TA'],datum.label)]"}}}},
{"width":165,"height":170,"title":{"text":["Chest X-Ray","Cardiomegaly"],"subtitle":"n=146"},
"transform":[{"filter":"datum.p=='T3'"},{"fold":["Min-Roll-Out","GradCAM","TAM Markov","TMME","LPR+TA"],"as":["m","y"]}],
"mark":{"type":"line","opacity":0.85},
"encoding":{"x":{"field":"x","type":"quantitative","scale":{"domain":[0,1],"nice":false},"axis":{"values":[0,0.2,0.4,0.6,0.8,1],"format":"~g","title":"Threshold"}},
"y":{"field":"y","type":"quantitative","scale":{"domain":[0,1.015],"nice":false},"axis":{"values":[0,0.2,0.4,0.6,0.8,1],"format":"~g","title":"EHR"}},
"color":{"field":"m","type":"nominal","scale":{"domain":["Min-Roll-Out","GradCAM","TAM Markov","TMME","LPR+TA"],"range":["#636EFA","#EF553B","#00CC96","#AB63FA","#FFA15A"]},"legend":{"title":null,"orient":"bottom-right","labelExpr":"pad(datum.label,13,'\u00a0','right')+['0.73±0.14','0.74±0.20','0.78±0.18','0.76±0.16','0.85±0.17'][indexof(['Min-Roll-Out','GradCAM','TAM Markov','TMME','LPR+TA'],datum.label)]"}}}},
{"width":79,"height":170,"title":{"text":["Chest X-Ray","Pleural Effusion"],"subtitle":" ","dx":11},
"data":{"values":[{"t":"no data\nof this class\nin this data set"}]},
"view":{"fill":null,"stroke":null},
"mark":{"type":"text","lineBreak":"\n","fontSize":14.5,"lineHeight":17,"dx":11,"dy":-6,"color":"#000000"},
"encoding":{"text":{"field":"t"}}},
{"width":165,"height":170,"title":{"text":["Chest X-Ray","Atelectasis"],"subtitle":"n=153"},
"transform":[{"filter":"datum.p=='T5'"},{"fold":["Min-Roll-Out","GradCAM","TAM Markov","TMME","LPR+TA"],"as":["m","y"]}],
"mark":{"type":"line","opacity":0.85},
"encoding":{"x":{"field":"x","type":"quantitative","scale":{"domain":[0,1],"nice":false},"axis":{"values":[0,0.2,0.4,0.6,0.8,1],"format":"~g","title":"Threshold"}},
"y":{"field":"y","type":"quantitative","scale":{"domain":[0,0.9],"nice":false},"axis":{"values":[0,0.2,0.4,0.6,0.8],"format":"~g","title":"EHR"}},
"color":{"field":"m","type":"nominal","scale":{"domain":["Min-Roll-Out","GradCAM","TAM Markov","TMME","LPR+TA"],"range":["#636EFA","#EF553B","#00CC96","#AB63FA","#FFA15A"]},"legend":{"title":null,"labelExpr":"pad(datum.label,13,'\u00a0','right')+['0.30±0.23','0.28±0.21','0.43±0.28','0.34±0.27','0.36±0.30'][indexof(['Min-Roll-Out','GradCAM','TAM Markov','TMME','LPR+TA'],datum.label)]"}}}},
{"width":165,"height":170,"title":{"text":["Chest X-Ray","Consolidation"],"subtitle":"n=180"},
"transform":[{"filter":"datum.p=='T6'"},{"fold":["Min-Roll-Out","GradCAM","TAM Markov","TMME","LPR+TA"],"as":["m","y"]}],
"mark":{"type":"line","opacity":0.85},
"encoding":{"x":{"field":"x","type":"quantitative","scale":{"domain":[0,1],"nice":false},"axis":{"values":[0,0.2,0.4,0.6,0.8,1],"format":"~g","title":"Threshold"}},
"y":{"field":"y","type":"quantitative","scale":{"domain":[0,0.9],"nice":false},"axis":{"values":[0,0.2,0.4,0.6,0.8],"format":"~g","title":"EHR"}},
"color":{"field":"m","type":"nominal","scale":{"domain":["Min-Roll-Out","GradCAM","TAM Markov","TMME","LPR+TA"],"range":["#636EFA","#EF553B","#00CC96","#AB63FA","#FFA15A"]},"legend":{"title":null,"labelExpr":"pad(datum.label,13,'\u00a0','right')+['0.31±0.23','0.11±0.15','0.25±0.25','0.32±0.26','0.34±0.32'][indexof(['Min-Roll-Out','GradCAM','TAM Markov','TMME','LPR+TA'],datum.label)]"}}}}
]},
{"title":{"text":"ViT_b_224","orient":"left","fontSize":14.5,"offset":2,"anchor":"middle","color":"#000000"},
"spacing":6,"resolve":{"scale":{"color":"independent"}},
"hconcat":[
{"width":165,"height":170,"title":{"text":"n=1000","fontSize":10.5,"color":"#2a3f5f"},
"transform":[{"filter":"datum.p=='U1'"},{"fold":["Min-Roll-Out","GradCAM","TAM Markov","TMME","LPR+TA"],"as":["m","y"]}],
"mark":{"type":"line","opacity":0.85},
"encoding":{"x":{"field":"x","type":"quantitative","scale":{"domain":[0,1],"nice":false},"axis":{"values":[0,0.2,0.4,0.6,0.8,1],"format":"~g","title":"Threshold"}},
"y":{"field":"y","type":"quantitative","scale":{"domain":[0,0.406],"nice":false},"axis":{"values":[0,0.05,0.1,0.15,0.2,0.25,0.3,0.35,0.4],"format":"~g","title":"EHR"}},
"color":{"field":"m","type":"nominal","scale":{"domain":["Min-Roll-Out","GradCAM","TAM Markov","TMME","LPR+TA"],"range":["#636EFA","#EF553B","#00CC96","#AB63FA","#FFA15A"]},"legend":{"title":null,"labelExpr":"pad(datum.label,13,'\u00a0','right')+['0.08±0.13','0.11±0.19','0.12±0.18','0.16±0.23','0.16±0.26'][indexof(['Min-Roll-Out','GradCAM','TAM Markov','TMME','LPR+TA'],datum.label)]"}}}},
{"width":165,"height":170,"title":{"text":"n=98","fontSize":10.5,"color":"#2a3f5f"},
"transform":[{"filter":"datum.p=='U2'"},{"fold":["Min-Roll-Out","GradCAM","TAM Markov","TMME","LPR+TA"],"as":["m","y"]}],
"mark":{"type":"line","opacity":0.85},
"encoding":{"x":{"field":"x","type":"quantitative","scale":{"domain":[0,1],"nice":false},"axis":{"values":[0,0.2,0.4,0.6,0.8,1],"format":"~g","title":"Threshold"}},
"y":{"field":"y","type":"quantitative","scale":{"domain":[0,0.61],"nice":false},"axis":{"values":[0,0.1,0.2,0.3,0.4,0.5,0.6],"format":"~g","title":"EHR"}},
"color":{"field":"m","type":"nominal","scale":{"domain":["Min-Roll-Out","GradCAM","TAM Markov","TMME","LPR+TA"],"range":["#636EFA","#EF553B","#00CC96","#AB63FA","#FFA15A"]},"legend":{"title":null,"labelExpr":"pad(datum.label,13,'\u00a0','right')+['0.14±0.20','0.14±0.23','0.18±0.23','0.26±0.30','0.28±0.33'][indexof(['Min-Roll-Out','GradCAM','TAM Markov','TMME','LPR+TA'],datum.label)]"}}}},
{"width":165,"height":170,"title":{"text":"n=146","fontSize":10.5,"color":"#2a3f5f"},
"transform":[{"filter":"datum.p=='U3'"},{"fold":["Min-Roll-Out","GradCAM","TAM Markov","TMME","LPR+TA"],"as":["m","y"]}],
"mark":{"type":"line","opacity":0.85},
"encoding":{"x":{"field":"x","type":"quantitative","scale":{"domain":[0,1],"nice":false},"axis":{"values":[0,0.2,0.4,0.6,0.8,1],"format":"~g","title":"Threshold"}},
"y":{"field":"y","type":"quantitative","scale":{"domain":[0,1.015],"nice":false},"axis":{"values":[0,0.2,0.4,0.6,0.8,1],"format":"~g","title":"EHR"}},
"color":{"field":"m","type":"nominal","scale":{"domain":["Min-Roll-Out","GradCAM","TAM Markov","TMME","LPR+TA"],"range":["#636EFA","#EF553B","#00CC96","#AB63FA","#FFA15A"]},"legend":{"title":null,"orient":"bottom-right","labelExpr":"pad(datum.label,13,'\u00a0','right')+['0.57±0.14','0.53±0.32','0.68±0.20','0.80±0.16','0.84±0.20'][indexof(['Min-Roll-Out','GradCAM','TAM Markov','TMME','LPR+TA'],datum.label)]"}}}},
{"width":79,"height":170,"title":{"text":" ","fontSize":10.5},
"data":{"values":[{"t":"no data\nof this class\nin this data set"}]},
"view":{"fill":null,"stroke":null},
"mark":{"type":"text","lineBreak":"\n","fontSize":14.5,"lineHeight":17,"dx":11,"dy":-6,"color":"#000000"},
"encoding":{"text":{"field":"t"}}},
{"width":165,"height":170,"title":{"text":"n=153","fontSize":10.5,"color":"#2a3f5f"},
"transform":[{"filter":"datum.p=='U5'"},{"fold":["Min-Roll-Out","GradCAM","TAM Markov","TMME","LPR+TA"],"as":["m","y"]}],
"mark":{"type":"line","opacity":0.85},
"encoding":{"x":{"field":"x","type":"quantitative","scale":{"domain":[0,1],"nice":false},"axis":{"values":[0,0.2,0.4,0.6,0.8,1],"format":"~g","title":"Threshold"}},
"y":{"field":"y","type":"quantitative","scale":{"domain":[0,0.9],"nice":false},"axis":{"values":[0,0.2,0.4,0.6,0.8],"format":"~g","title":"EHR"}},
"color":{"field":"m","type":"nominal","scale":{"domain":["Min-Roll-Out","GradCAM","TAM Markov","TMME","LPR+TA"],"range":["#636EFA","#EF553B","#00CC96","#AB63FA","#FFA15A"]},"legend":{"title":null,"labelExpr":"pad(datum.label,13,'\u00a0','right')+['0.27±0.20','0.31±0.27','0.31±0.24','0.45±0.30','0.44±0.35'][indexof(['Min-Roll-Out','GradCAM','TAM Markov','TMME','LPR+TA'],datum.label)]"}}}},
{"width":165,"height":170,"title":{"text":"n=180","fontSize":10.5,"color":"#2a3f5f"},
"transform":[{"filter":"datum.p=='U6'"},{"fold":["Min-Roll-Out","GradCAM","TAM Markov","TMME","LPR+TA"],"as":["m","y"]}],
"mark":{"type":"line","opacity":0.85},
"encoding":{"x":{"field":"x","type":"quantitative","scale":{"domain":[0,1],"nice":false},"axis":{"values":[0,0.2,0.4,0.6,0.8,1],"format":"~g","title":"Threshold"}},
"y":{"field":"y","type":"quantitative","scale":{"domain":[0,0.9],"nice":false},"axis":{"values":[0,0.2,0.4,0.6,0.8],"format":"~g","title":"EHR"}},
"color":{"field":"m","type":"nominal","scale":{"domain":["Min-Roll-Out","GradCAM","TAM Markov","TMME","LPR+TA"],"range":["#636EFA","#EF553B","#00CC96","#AB63FA","#FFA15A"]},"legend":{"title":null,"labelExpr":"pad(datum.label,13,'\u00a0','right')+['0.24±0.21','0.16±0.22','0.22±0.23','0.36±0.29','0.33±0.31'][indexof(['Min-Roll-Out','GradCAM','TAM Markov','TMME','LPR+TA'],datum.label)]"}}}}
]}
],"spacing":6,"resolve":{"scale":{"color":"independent"}}},
{"spacing":0,"resolve":{"scale":{"color":"independent"}},
"hconcat":[
{"width":15,"height":10,"data":{"values":[{}]},"view":{"fill":null,"stroke":null},"mark":{"type":"text"},"encoding":{"text":{"value":""}}},
{"spacing":6,"resolve":{"scale":{"color":"independent"}},
"vconcat":[
{"title":{"text":"Vit_t_224","orient":"left","fontSize":14.5,"offset":2,"anchor":"middle","color":"#000000"},
"spacing":5,"resolve":{"scale":{"color":"independent"}},
"hconcat":[
{"width":165,"height":170,"title":{"text":["VinBigData","Pneumothorax"],"subtitle":"n=43"},
"transform":[{"filter":"datum.p=='B1'"},{"fold":["Min-Roll-Out","GradCAM","TAM Markov","TMME","LPR+TA"],"as":["m","y"]}],
"mark":{"type":"line"},
"encoding":{"x":{"field":"x","type":"quantitative","scale":{"domain":[0,1],"nice":false},"axis":{"values":[0,0.2,0.4,0.6,0.8,1],"format":"~g","title":"Threshold"}},
"y":{"field":"y","type":"quantitative","scale":{"domain":[0,0.654],"nice":false},"axis":{"values":[0,0.1,0.2,0.3,0.4,0.5,0.6],"format":"~g","title":"EHR"}},
"color":{"field":"m","type":"nominal","scale":{"domain":["Min-Roll-Out","GradCAM","TAM Markov","TMME","LPR+TA"],"range":["#636EFA","#EF553B","#00CC96","#AB63FA","#FFA15A"]},"legend":{"title":null,"labelExpr":"pad(datum.label,13,'\u00a0','right')+['0.29±0.28','0.22±0.26','0.25±0.26','0.32±0.32','0.27±0.29'][indexof(['Min-Roll-Out','GradCAM','TAM Markov','TMME','LPR+TA'],datum.label)]"}}}},
{"width":165,"height":170,"title":{"text":["VinBigData","Cardiomegaly"],"subtitle":"n=1000"},
"transform":[{"filter":"datum.p=='B2'"},{"fold":["Min-Roll-Out","GradCAM","TAM Markov","TMME","LPR+TA"],"as":["m","y"]}],
"mark":{"type":"line"},
"encoding":{"x":{"field":"x","type":"quantitative","scale":{"domain":[0,1],"nice":false},"axis":{"values":[0,0.2,0.4,0.6,0.8,1],"format":"~g","title":"Threshold"}},
"y":{"field":"y","type":"quantitative","scale":{"domain":[0,1.02],"nice":false},"axis":{"values":[0,0.2,0.4,0.6,0.8,1],"format":"~g","title":"EHR"}},
"color":{"field":"m","type":"nominal","scale":{"domain":["Min-Roll-Out","GradCAM","TAM Markov","TMME","LPR+TA"],"range":["#636EFA","#EF553B","#00CC96","#AB63FA","#FFA15A"]},"legend":{"title":null,"labelExpr":"pad(datum.label,13,'\u00a0','right')+['0.31±0.19','0.40±0.22','0.39±0.26','0.41±0.24','0.50±0.31'][indexof(['Min-Roll-Out','GradCAM','TAM Markov','TMME','LPR+TA'],datum.label)]"}}}},
{"width":165,"height":170,"title":{"text":["VinBigData","Pleural Effusion"],"subtitle":"n=181"},
"transform":[{"filter":"datum.p=='B3'"},{"fold":["Min-Roll-Out","GradCAM","TAM Markov","TMME","LPR+TA"],"as":["m","y"]}],
"mark":{"type":"line"},
"encoding":{"x":{"field":"x","type":"quantitative","scale":{"domain":[0,1],"nice":false},"axis":{"values":[0,0.2,0.4,0.6,0.8,1],"format":"~g","title":"Threshold"}},
"y":{"field":"y","type":"quantitative","scale":{"domain":[0,0.405],"nice":false},"axis":{"values":[0,0.05,0.1,0.15,0.2,0.25,0.3,0.35,0.4],"format":"~g","title":"EHR"}},
"color":{"field":"m","type":"nominal","scale":{"domain":["Min-Roll-Out","GradCAM","TAM Markov","TMME","LPR+TA"],"range":["#636EFA","#EF553B","#00CC96","#AB63FA","#FFA15A"]},"legend":{"title":null,"labelExpr":"pad(datum.label,13,'\u00a0','right')+['0.15±0.18','0.14±0.17','0.14±0.18','0.19±0.24','0.21±0.28'][indexof(['Min-Roll-Out','GradCAM','TAM Markov','TMME','LPR+TA'],datum.label)]"}}}},
{"width":165,"height":170,"title":{"text":["VinBigData","Atelectasis"],"subtitle":"n=525"},
"transform":[{"filter":"datum.p=='B4'"},{"fold":["Min-Roll-Out","GradCAM","TAM Markov","TMME","LPR+TA"],"as":["m","y"]}],
"mark":{"type":"line"},
"encoding":{"x":{"field":"x","type":"quantitative","scale":{"domain":[0,1],"nice":false},"axis":{"values":[0,0.2,0.4,0.6,0.8,1],"format":"~g","title":"Threshold"}},
"y":{"field":"y","type":"quantitative","scale":{"domain":[0,0.202],"nice":false},"axis":{"values":[0,0.05,0.1,0.15,0.2],"format":"~g","title":"EHR"}},
"color":{"field":"m","type":"nominal","scale":{"domain":["Min-Roll-Out","GradCAM","TAM Markov","TMME","LPR+TA"],"range":["#636EFA","#EF553B","#00CC96","#AB63FA","#FFA15A"]},"legend":{"title":null,"labelExpr":"pad(datum.label,13,'\u00a0','right')+['0.08±0.16','0.08±0.16','0.11±0.22','0.08±0.18','0.07±0.17'][indexof(['Min-Roll-Out','GradCAM','TAM Markov','TMME','LPR+TA'],datum.label)]"}}}},
{"width":165,"height":170,"title":{"text":["VinBigData","Consolidation"],"subtitle":"n=101"},
"transform":[{"filter":"datum.p=='B5'"},{"fold":["Min-Roll-Out","GradCAM","TAM Markov","TMME","LPR+TA"],"as":["m","y"]}],
"mark":{"type":"line"},
"encoding":{"x":{"field":"x","type":"quantitative","scale":{"domain":[0,1],"nice":false},"axis":{"values":[0,0.2,0.4,0.6,0.8,1],"format":"~g","title":"Threshold"}},
"y":{"field":"y","type":"quantitative","scale":{"domain":[0,0.507],"nice":false},"axis":{"values":[0,0.1,0.2,0.3,0.4,0.5],"format":"~g","title":"EHR"}},
"color":{"field":"m","type":"nominal","scale":{"domain":["Min-Roll-Out","GradCAM","TAM Markov","TMME","LPR+TA"],"range":["#636EFA","#EF553B","#00CC96","#AB63FA","#FFA15A"]},"legend":{"title":null,"labelExpr":"pad(datum.label,13,'\u00a0','right')+['0.13±0.16','0.10±0.14','0.12±0.18','0.17±0.19','0.18±0.24'][indexof(['Min-Roll-Out','GradCAM','TAM Markov','TMME','LPR+TA'],datum.label)]"}}}}
]},
{"title":{"text":"ViT_b_224","orient":"left","fontSize":14.5,"offset":2,"anchor":"middle","color":"#000000"},
"spacing":5,"resolve":{"scale":{"color":"independent"}},
"hconcat":[
{"width":165,"height":170,"title":{"text":"n=43","fontSize":10.5,"color":"#2a3f5f"},
"transform":[{"filter":"datum.p=='C1'"},{"fold":["Min-Roll-Out","GradCAM","TAM Markov","TMME","LPR+TA"],"as":["m","y"]}],
"mark":{"type":"line"},
"encoding":{"x":{"field":"x","type":"quantitative","scale":{"domain":[0,1],"nice":false},"axis":{"values":[0,0.2,0.4,0.6,0.8,1],"format":"~g","title":"Threshold"}},
"y":{"field":"y","type":"quantitative","scale":{"domain":[0,0.654],"nice":false},"axis":{"values":[0,0.1,0.2,0.3,0.4,0.5,0.6],"format":"~g","title":"EHR"}},
"color":{"field":"m","type":"nominal","scale":{"domain":["Min-Roll-Out","GradCAM","TAM Markov","TMME","LPR+TA"],"range":["#636EFA","#EF553B","#00CC96","#AB63FA","#FFA15A"]},"legend":{"title":null,"labelExpr":"pad(datum.label,13,'\u00a0','right')+['0.27±0.26','0.20±0.25','0.25±0.30','0.33±0.33','0.30±0.35'][indexof(['Min-Roll-Out','GradCAM','TAM Markov','TMME','LPR+TA'],datum.label)]"}}}},
{"width":165,"height":170,"title":{"text":"n=1000","fontSize":10.5,"color":"#2a3f5f"},
"transform":[{"filter":"datum.p=='C2'"},{"fold":["Min-Roll-Out","GradCAM","TAM Markov","TMME","LPR+TA"],"as":["m","y"]}],
"mark":{"type":"line"},
"encoding":{"x":{"field":"x","type":"quantitative","scale":{"domain":[0,1],"nice":false},"axis":{"values":[0,0.2,0.4,0.6,0.8,1],"format":"~g","title":"Threshold"}},
"y":{"field":"y","type":"quantitative","scale":{"domain":[0,1.02],"nice":false},"axis":{"values":[0,0.2,0.4,0.6,0.8,1],"format":"~g","title":"EHR"}},
"color":{"field":"m","type":"nominal","scale":{"domain":["Min-Roll-Out","GradCAM","TAM Markov","TMME","LPR+TA"],"range":["#636EFA","#EF553B","#00CC96","#AB63FA","#FFA15A"]},"legend":{"title":null,"labelExpr":"pad(datum.label,13,'\u00a0','right')+['0.28±0.19','0.37±0.22','0.44±0.22','0.52±0.30','0.55±0.35'][indexof(['Min-Roll-Out','GradCAM','TAM Markov','TMME','LPR+TA'],datum.label)]"}}}},
{"width":165,"height":170,"title":{"text":"n=181","fontSize":10.5,"color":"#2a3f5f"},
"transform":[{"filter":"datum.p=='C3'"},{"fold":["Min-Roll-Out","GradCAM","TAM Markov","TMME","LPR+TA"],"as":["m","y"]}],
"mark":{"type":"line"},
"encoding":{"x":{"field":"x","type":"quantitative","scale":{"domain":[0,1],"nice":false},"axis":{"values":[0,0.2,0.4,0.6,0.8,1],"format":"~g","title":"Threshold"}},
"y":{"field":"y","type":"quantitative","scale":{"domain":[0,0.405],"nice":false},"axis":{"values":[0,0.05,0.1,0.15,0.2,0.25,0.3,0.35,0.4],"format":"~g","title":"EHR"}},
"color":{"field":"m","type":"nominal","scale":{"domain":["Min-Roll-Out","GradCAM","TAM Markov","TMME","LPR+TA"],"range":["#636EFA","#EF553B","#00CC96","#AB63FA","#FFA15A"]},"legend":{"title":null,"labelExpr":"pad(datum.label,13,'\u00a0','right')+['0.17±0.20','0.14±0.17','0.16±0.19','0.21±0.29','0.21±0.32'][indexof(['Min-Roll-Out','GradCAM','TAM Markov','TMME','LPR+TA'],datum.label)]"}}}},
{"width":165,"height":170,"title":{"text":"n=525","fontSize":10.5,"color":"#2a3f5f"},
"transform":[{"filter":"datum.p=='C4'"},{"fold":["Min-Roll-Out","GradCAM","TAM Markov","TMME","LPR+TA"],"as":["m","y"]}],
"mark":{"type":"line"},
"encoding":{"x":{"field":"x","type":"quantitative","scale":{"domain":[0,1],"nice":false},"axis":{"values":[0,0.2,0.4,0.6,0.8,1],"format":"~g","title":"Threshold"}},
"y":{"field":"y","type":"quantitative","scale":{"domain":[0,0.202],"nice":false},"axis":{"values":[0,0.05,0.1,0.15,0.2],"format":"~g","title":"EHR"}},
"color":{"field":"m","type":"nominal","scale":{"domain":["Min-Roll-Out","GradCAM","TAM Markov","TMME","LPR+TA"],"range":["#636EFA","#EF553B","#00CC96","#AB63FA","#FFA15A"]},"legend":{"title":null,"labelExpr":"pad(datum.label,13,'\u00a0','right')+['0.08±0.17','0.10±0.18','0.09±0.17','0.09±0.21','0.09±0.22'][indexof(['Min-Roll-Out','GradCAM','TAM Markov','TMME','LPR+TA'],datum.label)]"}}}},
{"width":165,"height":170,"title":{"text":"n=101","fontSize":10.5,"color":"#2a3f5f"},
"transform":[{"filter":"datum.p=='C5'"},{"fold":["Min-Roll-Out","GradCAM","TAM Markov","TMME","LPR+TA"],"as":["m","y"]}],
"mark":{"type":"line"},
"encoding":{"x":{"field":"x","type":"quantitative","scale":{"domain":[0,1],"nice":false},"axis":{"values":[0,0.2,0.4,0.6,0.8,1],"format":"~g","title":"Threshold"}},
"y":{"field":"y","type":"quantitative","scale":{"domain":[0,0.507],"nice":false},"axis":{"values":[0,0.1,0.2,0.3,0.4,0.5],"format":"~g","title":"EHR"}},
"color":{"field":"m","type":"nominal","scale":{"domain":["Min-Roll-Out","GradCAM","TAM Markov","TMME","LPR+TA"],"range":["#636EFA","#EF553B","#00CC96","#AB63FA","#FFA15A"]},"legend":{"title":null,"labelExpr":"pad(datum.label,13,'\u00a0','right')+['0.16±0.18','0.19±0.25','0.20±0.25','0.24±0.28','0.24±0.32'][indexof(['Min-Roll-Out','GradCAM','TAM Markov','TMME','LPR+TA'],datum.label)]"}}}}
]}
]}
]}
],
"config":{
"font":"Liberation Sans",
"view":{"fill":"#E5ECF6","stroke":null},
"line":{"strokeWidth":1.3},
"text":{"font":"Liberation Sans"},
"axis":{"grid":true,"gridColor":"#ffffff","gridWidth":1,"domain":false,"ticks":false,"labelColor":"#2a3f5f","labelFont":"Liberation Sans","labelFontSize":10,"labelPadding":3,"titleColor":"#2a3f5f","titleFont":"Liberation Sans","titleFontWeight":"normal"},
"axisX":{"titleFontSize":10.5,"titlePadding":4,"labelFlush":false},
"axisY":{"titleFontSize":9.5,"titlePadding":4,"minExtent":24,"maxExtent":24},
"legend":{"orient":"top-right","offset":3,"fillColor":"rgba(255,255,255,0.9)","padding":5,"symbolType":"stroke","symbolSize":100,"symbolStrokeWidth":1.5,"labelFont":"Liberation Mono","labelFontSize":6.3,"labelColor":"#2a3f5f","rowPadding":0.2,"labelLimit":300,"labelOffset":4},
"title":{"font":"Liberation Sans","fontSize":14,"fontWeight":"normal","color":"#111111","lineHeight":14.5,"subtitleFont":"Liberation Sans","subtitleFontSize":10.5,"subtitleColor":"#2a3f5f","subtitlePadding":7,"offset":-4,"anchor":"middle"}
}
}
